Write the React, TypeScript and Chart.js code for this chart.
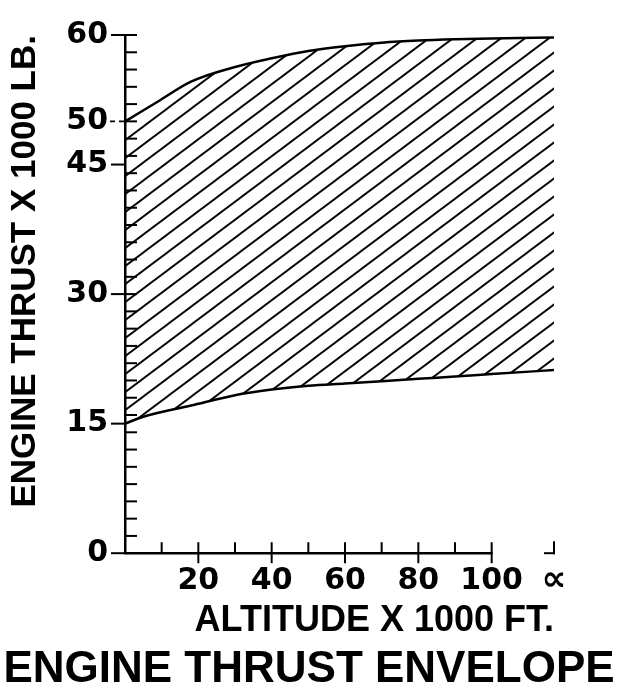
import React, { useEffect, useRef } from "react";
import { Chart, registerables } from "chart.js";

Chart.register(...registerables);

// ---- data (altitude x 1000 ft, thrust x 1000 lb) ----
const INF_ALT = 117; // position of the "infinity" altitude mark
const upperAlt = [0, 9, 18, 30, 40, 50, 60, 70, 80, 90, 100, 117];
const upperThrust = [50, 52.3, 54.6, 56.3, 57.3, 58.15, 58.7, 59.1, 59.35, 59.5, 59.6, 59.7];
const lowerAlt = [0, 5, 18, 30, 40, 50, 60, 70, 80, 90, 100, 117];
const lowerThrust = [15, 15.8, 17.1, 18.3, 18.95, 19.4, 19.65, 19.9, 20.2, 20.45, 20.75, 21.2];

// ---- axis ticks ----
const xLabelTicks = [20, 40, 60, 80, 100, INF_ALT];
const xMajorTicks = [20, 40, 60, 80, 100];
const xMinorTicks = [10, 30, 50, 70, 90];
const yLabelTicks = [0, 15, 30, 45, 50, 60];
const yMajorTicks = [0, 15, 30, 45, 60];
const yDashedTicks = [50];
const yMinorTicks = [2, 4, 6, 8, 10, 12, 14, 16, 18, 20, 22, 24, 26, 28, 30, 32, 34, 36, 38, 40, 42, 44, 46, 48, 50, 52, 54, 56, 58, 60];

const TICK_FONT = "'DejaVu Sans', 'Liberation Sans', sans-serif";
const TITLE_FONT = "'Liberation Sans', Arial, sans-serif";

const axisMarks = {
  id: "axisMarks",
  afterDatasetsDraw(chart: any) {
    const { ctx, scales } = chart;
    const x = scales.x;
    const y = scales.y;
    const x0 = x.getPixelForValue(0);
    const y0 = y.getPixelForValue(0);
    const seg = (a: number, b: number, c: number, d: number) => {
      ctx.beginPath();
      ctx.moveTo(a, b);
      ctx.lineTo(c, d);
      ctx.stroke();
    };
    ctx.save();
    ctx.strokeStyle = "#000";
    ctx.lineCap = "butt";
    // x axis line from 0 to 100
    ctx.lineWidth = 2.5;
    seg(x0 - 1, y0, x.getPixelForValue(100) + 1, y0);
    // y ticks
    ctx.lineWidth = 2;
    yMinorTicks.forEach((v) => {
      const p = y.getPixelForValue(v);
      seg(x0, p, x0 + 12, p);
    });
    yMajorTicks.forEach((v) => {
      const p = y.getPixelForValue(v);
      seg(x0 - 14, p, x0, p);
    });
    ctx.setLineDash([5, 4]);
    ctx.lineWidth = 1.6;
    yDashedTicks.forEach((v) => {
      const p = y.getPixelForValue(v);
      seg(x0 - 24, p, x0, p);
    });
    ctx.setLineDash([]);
    // x ticks
    ctx.lineWidth = 2;
    xMinorTicks.forEach((v) => {
      const p = x.getPixelForValue(v);
      seg(p, y0 - 11, p, y0);
    });
    xMajorTicks.forEach((v) => {
      const p = x.getPixelForValue(v);
      seg(p, y0 - 11, p, y0 + 10);
    });
    // infinity mark
    const pi = x.getPixelForValue(INF_ALT);
    seg(pi, y0 - 12, pi, y0 + 1);
    seg(pi - 10, y0, pi + 1, y0);
    ctx.restore();
  },
};

export default function App() {
  const ref = useRef<HTMLCanvasElement>(null);

  useEffect(() => {
    const canvas = ref.current!;
    const W = 24;
    const H = 18;
    const tile = document.createElement("canvas");
    tile.width = W;
    tile.height = H;
    const t = tile.getContext("2d")!;
    t.strokeStyle = "#000";
    t.lineWidth = 1.9;
    for (const k of [-1, 0, 1]) {
      t.beginPath();
      t.moveTo(-W + k * W, 2 * H);
      t.lineTo(2 * W + k * W, -H);
      t.stroke();
    }
    const hatch = canvas.getContext("2d")!.createPattern(tile, "repeat");

    const chart = new Chart(canvas, {
      type: "line",
      data: {
        datasets: [
          {
            label: "Maximum thrust",
            data: upperAlt.map((a, i) => ({ x: a, y: upperThrust[i] })),
            borderColor: "#000",
            borderWidth: 2.5,
            pointRadius: 0,
            cubicInterpolationMode: "monotone",
            fill: "+1",
            backgroundColor: hatch as any,
          },
          {
            label: "Minimum thrust",
            data: lowerAlt.map((a, i) => ({ x: a, y: lowerThrust[i] })),
            borderColor: "#000",
            borderWidth: 2.5,
            pointRadius: 0,
            cubicInterpolationMode: "monotone",
            fill: false,
          },
        ],
      },
      options: {
        responsive: false,
        animation: false,
        layout: { padding: { top: 22, right: 0, left: 0, bottom: 0 } },
        plugins: {
          legend: { display: false },
          tooltip: { enabled: false },
          title: {
            display: true,
            text: "ENGINE THRUST ENVELOPE",
            position: "bottom",
            color: "#000",
            font: { family: TITLE_FONT, size: 44, weight: "bold" },
            padding: { top: 0, bottom: 3 },
          },
        },
        scales: {
          x: {
            type: "linear",
            min: 0,
            max: INF_ALT,
            grid: { display: false, drawTicks: false },
            border: { display: false },
            afterBuildTicks: (s: any) => {
              s.ticks = xLabelTicks.map((v) => ({ value: v }));
            },
            afterFit: (s: any) => {
              s.height = 90;
            },
            ticks: {
              autoSkip: false,
              maxRotation: 0,
              padding: 10,
              color: "#000",
              font: (c: any) =>
                c.tick && c.tick.value === INF_ALT
                  ? { family: TICK_FONT, size: 35, weight: "bold", lineHeight: 1.03 }
                  : { family: TICK_FONT, size: 30, weight: "bold" },
              callback: (v: any) => (v === INF_ALT ? "∝" : String(v)),
            },
            title: {
              display: true,
              text: "ALTITUDE X 1000 FT.",
              align: "end",
              color: "#000",
              font: { family: TITLE_FONT, size: 36, weight: "bold" },
              padding: { top: 0, bottom: 1 },
            },
          },
          y: {
            type: "linear",
            min: 0,
            max: 60,
            grid: { display: false, drawTicks: false },
            border: { display: true, color: "#000", width: 2.5 },
            afterBuildTicks: (s: any) => {
              s.ticks = yLabelTicks.map((v) => ({ value: v }));
            },
            afterFit: (s: any) => {
              s.width = 125;
            },
            ticks: {
              autoSkip: false,
              padding: 17,
              color: "#000",
              font: { family: TICK_FONT, size: 30, weight: "bold" },
              callback: (v: any) => String(v),
            },
            title: {
              display: true,
              text: "ENGINE THRUST X 1000 LB.",
              align: "end",
              color: "#000",
              font: { family: TITLE_FONT, size: 35, weight: "bold" },
              padding: { top: 4, bottom: 0 },
            },
          },
          yRight: {
            type: "linear",
            position: "right",
            display: true,
            min: 0,
            max: 60,
            grid: { display: false, drawTicks: false },
            border: { display: false },
            ticks: { display: false },
            afterFit: (s: any) => {
              s.width = 64;
            },
          },
        },
      },
      plugins: [axisMarks],
    } as any);

    return () => chart.destroy();
  }, []);

  return (
    <div style={{ position: "fixed", left: 0, top: 0, width: 618, height: 699, background: "#fff" }}>
      <canvas ref={ref} width={618} height={699} style={{ display: "block" }} />
    </div>
  );
}
